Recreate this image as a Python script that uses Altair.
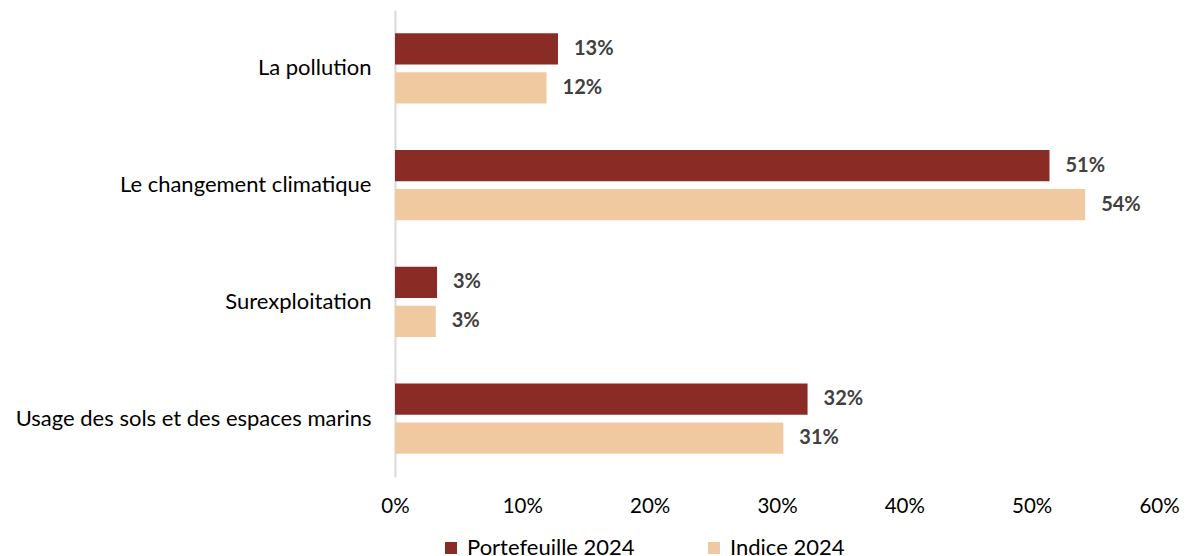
import altair as alt
import pandas as pd

categories = ["La pollution", "Le changement climatique", "Surexploitation",
              "Usage des sols et des espaces marins"]
series = ["Portefeuille 2024", "Indice 2024"]
portefeuille = [0.128, 0.514, 0.033, 0.324]
indice = [0.119, 0.542, 0.032, 0.305]
colors = ["#8B2B25", "#F1C9A0"]
x_ticks = [0, 0.1, 0.2, 0.3, 0.4, 0.5, 0.6]

rows = []
for c, p, i in zip(categories, portefeuille, indice):
    rows.append({"cat": c, "serie": series[0], "val": p})
    rows.append({"cat": c, "serie": series[1], "val": i})
df = pd.DataFrame(rows)

FONT = "Lato"

y_enc = alt.Y("cat:N", sort=categories,
              scale=alt.Scale(paddingInner=0.4, paddingOuter=0.2),
              axis=alt.Axis(title=None, ticks=False, domain=True, domainColor="#d9d9d9",
                            domainWidth=2, labelPadding=24, labelFontSize=22,
                            labelColor="#000000", labelFont=FONT, labelLimit=0,
                            minExtent=387, maxExtent=387))
yoff = alt.YOffset("serie:N", sort=series, scale=alt.Scale(paddingInner=0.2))

base = alt.Chart(df)

bars = base.mark_bar().encode(
    y=y_enc,
    yOffset=yoff,
    x=alt.X("val:Q", scale=alt.Scale(domain=[0, 0.6], nice=False),
            axis=alt.Axis(title=None, values=x_ticks, format=".0%", ticks=False,
                          domain=False, grid=False, labelFontSize=20.5, labelFont=FONT,
                          labelColor="#000000", labelPadding=19, labelFlush=False)),
    color=alt.Color("serie:N", sort=series,
                    scale=alt.Scale(domain=series, range=colors),
                    legend=alt.Legend(title=None, orient="none", direction="horizontal",
                                      legendX=45, legendY=527, symbolType="square",
                                      symbolSize=144, labelFontSize=22, labelFont=FONT,
                                      labelColor="#000000", columnPadding=68,
                                      labelOffset=5, padding=0, symbolStrokeWidth=0,
                                      labelLimit=0)),
)

labels = base.mark_text(align="left", baseline="middle", dx=16, fontSize=20,
                        fontWeight="bold", color="#404040", font=FONT).encode(
    y=alt.Y("cat:N", sort=categories),
    yOffset=yoff,
    x=alt.X("val:Q"),
    text=alt.Text("val:Q", format=".0%"),
)

chart = alt.layer(bars, labels).properties(
    width=764, height=467,
    autosize=alt.AutoSizeParams(type="none"),
).configure_view(stroke=None).properties(
    padding={"left": 387, "top": 2, "right": 23, "bottom": 87}
)

chart.save("out.html", embed_options={"renderer": "svg", "actions": False})
